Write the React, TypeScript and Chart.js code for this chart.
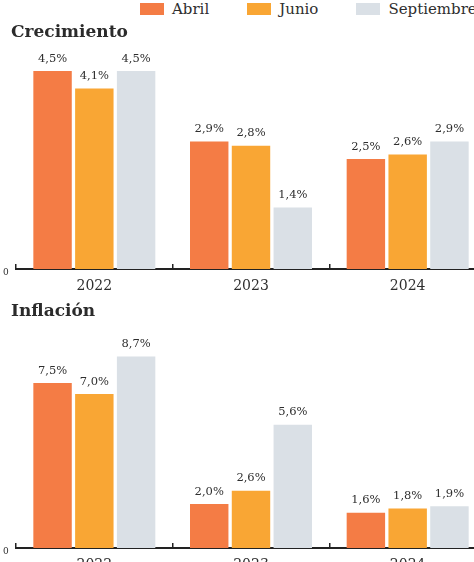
import React, { useEffect, useRef } from "react";
import { Chart, registerables } from "chart.js";

Chart.register(...registerables);

const categories = ["2022", "2023", "2024"];
const seriesNames = ["Abril", "Junio", "Septiembre"];
const seriesColors = ["#F47C45", "#F9A634", "#DAE0E6"];

const crecimientoAbril = [4.5, 2.9, 2.5];
const crecimientoJunio = [4.1, 2.8, 2.6];
const crecimientoSeptiembre = [4.5, 1.4, 2.9];

const inflacionAbril = [7.5, 2.0, 1.6];
const inflacionJunio = [7.0, 2.6, 1.8];
const inflacionSeptiembre = [8.7, 5.6, 1.9];

const crecimientoMax = 5;
const inflacionMax = 10;
const yTickValues = [0];

const SERIF = '"DejaVu Serif", serif';
const TEXT = "#2e2e2e";
const AXIS = "#222222";

const valueLabelPlugin = {
  id: "valueLabels",
  afterDatasetsDraw(chart: any) {
    const ctx = chart.ctx;
    ctx.save();
    ctx.font = `11.5px ${SERIF}`;
    ctx.fillStyle = TEXT;
    ctx.textAlign = "center";
    ctx.textBaseline = "alphabetic";
    chart.data.datasets.forEach((ds: any, di: number) => {
      const meta = chart.getDatasetMeta(di);
      meta.data.forEach((el: any, i: number) => {
        const v = ds.data[i] as number;
        ctx.fillText(v.toFixed(1).replace(".", ",") + "%", el.x, el.y - 9.5);
      });
    });
    ctx.restore();
  },
};

function Panel({ title, series, max, top }: { title: string; series: number[][]; max: number; top: number }) {
  const ref = useRef<HTMLCanvasElement | null>(null);
  useEffect(() => {
    if (!ref.current) return;
    const chart = new Chart(ref.current, {
      type: "bar",
      data: {
        labels: categories,
        datasets: series.map((vals, i) => ({
          label: seriesNames[i],
          data: vals,
          backgroundColor: seriesColors[i],
          borderWidth: 0,
          barPercentage: 0.92,
          categoryPercentage: 0.8,
        })),
      },
      options: {
        animation: false,
        responsive: false,
        devicePixelRatio: 1,
        layout: { padding: { left: 11, right: 14, top: 0, bottom: 0 } },
        plugins: {
          legend: { display: false },
          tooltip: { enabled: false },
          title: {
            display: true,
            text: title,
            align: "start",
            color: "#2b2b2b",
            font: { family: SERIF, size: 17, weight: "bold" },
            padding: { top: 4, bottom: 6.6 },
          },
        },
        scales: {
          x: {
            grid: {
              display: true,
              drawOnChartArea: false,
              drawTicks: true,
              tickLength: -5,
              color: AXIS,
              lineWidth: 1.5,
              offset: true,
            },
            border: { display: true, color: AXIS, width: 2 },
            ticks: {
              color: TEXT,
              font: { family: SERIF, size: 14 },
              padding: 13.6,
              maxRotation: 0,
            },
          },
          y: {
            min: 0,
            max: max,
            grid: { display: false, drawTicks: false },
            border: { display: false },
            afterBuildTicks: (s: any) => {
              s.ticks = yTickValues.map((v) => ({ value: v }));
            },
            afterFit: (s: any) => {
              s.width = 5;
            },
            ticks: {
              mirror: true,
              color: TEXT,
              font: { family: SERIF, size: 9 },
              padding: -13,
              labelOffset: 4,
            },
          },
        },
      } as any,
      plugins: [valueLabelPlugin],
    });
    return () => chart.destroy();
  }, []);
  return (
    <canvas
      ref={ref}
      width={500}
      height={290}
      style={{ position: "absolute", left: 0, top, display: "block" }}
    />
  );
}

export default function App() {
  return (
    <div
      style={{
        position: "absolute",
        left: 0,
        top: 0,
        width: 474,
        height: 562,
        overflow: "hidden",
        background: "#ffffff",
      }}
    >
      <div
        style={{
          position: "absolute",
          left: 140,
          top: 0,
          height: 18,
          display: "flex",
          alignItems: "center",
          gap: 38,
          whiteSpace: "nowrap",
          fontFamily: SERIF,
          fontSize: 15,
          color: TEXT,
        }}
      >
        {seriesNames.map((n, i) => (
          <div key={n} style={{ display: "flex", alignItems: "center" }}>
            <span style={{ display: "inline-block", width: 24, height: 12, background: seriesColors[i] }} />
            <span style={{ marginLeft: 8, lineHeight: "18px" }}>{n}</span>
          </div>
        ))}
      </div>
      <Panel
        title="Crecimiento"
        series={[crecimientoAbril, crecimientoJunio, crecimientoSeptiembre]}
        max={crecimientoMax}
        top={18}
      />
      <Panel
        title="Inflación"
        series={[inflacionAbril, inflacionJunio, inflacionSeptiembre]}
        max={inflacionMax}
        top={297}
      />
    </div>
  );
}
